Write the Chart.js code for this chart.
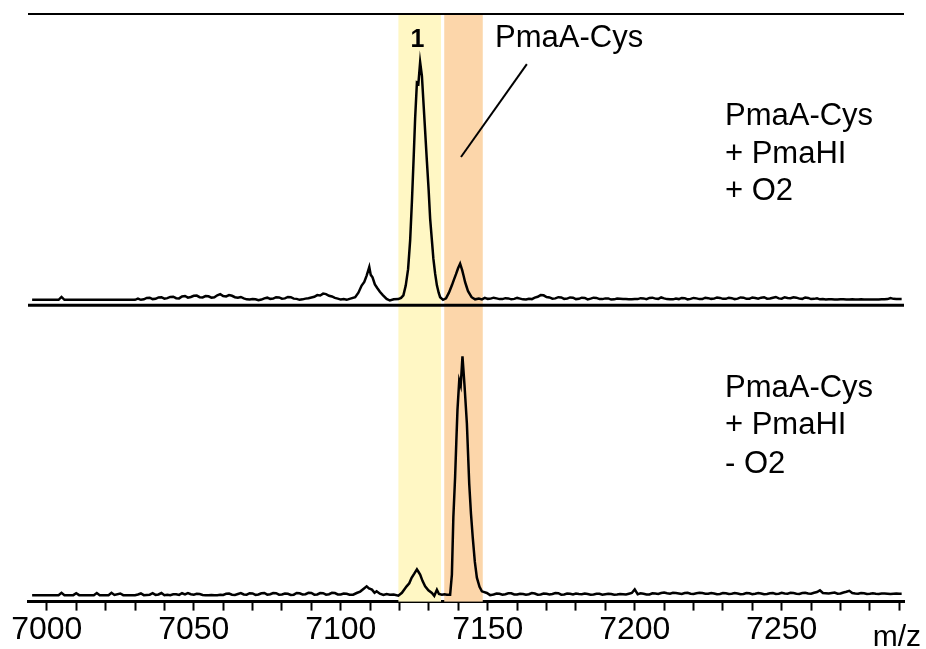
<!DOCTYPE html>
<html>
<head>
<meta charset="utf-8">
<script src="https://cdn.jsdelivr.net/npm/chart.js@4"></script>
<style>
  body { margin: 0; background: #fff; }
  #wrap { width: 926px; height: 649px; }
</style>
</head>
<body>
<div id="wrap"><canvas id="spec" width="926" height="649"></canvas></div>
<script>
/* data: m/z and relative intensity */
const mzTop = [6995, 7000, 7004, 7005, 7006, 7010, 7015, 7020, 7025, 7030,
  7031, 7032, 7033, 7034, 7035, 7036, 7037, 7038, 7039, 7040,
  7041, 7042, 7043, 7044, 7045, 7046, 7047, 7048, 7049, 7050,
  7051, 7052, 7053, 7054, 7055, 7056, 7057, 7058, 7059, 7060,
  7061, 7062, 7063, 7064, 7065, 7066, 7067, 7068, 7069, 7070,
  7071, 7072, 7073, 7074, 7075, 7076, 7077, 7078, 7079, 7080,
  7081, 7082, 7083, 7084, 7085, 7086, 7087, 7088, 7089, 7090,
  7091, 7092, 7093, 7094, 7095, 7096, 7097, 7098, 7099, 7100,
  7101, 7102, 7103,
  7104.9, 7106, 7107.1, 7108, 7108.8, 7109.7, 7110.2, 7110.8, 7111.6, 7112.4, 7113.3, 7114.3, 7115.6, 7116.7, 7118, 7119.6,
  7120.5, 7121.3, 7122.1, 7122.9, 7123.6, 7124.2, 7124.8, 7125.3, 7125.9, 7126.4, 7127.0, 7127.6, 7128.1, 7128.7, 7129.3,
  7129.9, 7130.4, 7131.0, 7131.5, 7132.1, 7132.7, 7133.3, 7133.8, 7134.8,
  7135.8, 7136.8, 7137.8, 7138.5, 7139.2, 7139.9, 7140.6, 7141.3, 7141.8, 7142.3, 7142.8, 7143.3, 7144.5, 7145.7,
  7147, 7148, 7149, 7150, 7151, 7152, 7153, 7154, 7155, 7156,
  7157, 7158, 7159, 7160, 7161, 7162, 7163, 7164, 7165, 7166,
  7167, 7168, 7169, 7170, 7171, 7172, 7173, 7174, 7175, 7176,
  7177, 7178, 7179, 7180, 7181, 7182, 7183, 7184, 7185, 7186,
  7187, 7188, 7189, 7190, 7191, 7192, 7193, 7194, 7195, 7196,
  7197, 7198, 7199, 7200, 7201, 7202, 7203, 7204, 7205, 7206,
  7207, 7208, 7209, 7210, 7211, 7212, 7213, 7214, 7215, 7216,
  7217, 7218, 7219, 7220, 7221, 7222, 7223, 7224, 7225, 7226,
  7227, 7228, 7229, 7230, 7231, 7232, 7233, 7234, 7235, 7236,
  7237, 7238, 7239, 7240, 7241, 7242, 7243, 7244, 7245, 7246,
  7247, 7248, 7249, 7250, 7251, 7252, 7253, 7254, 7255, 7256,
  7257, 7258, 7259, 7260, 7261, 7262, 7263, 7264, 7265, 7266,
  7267, 7268, 7269, 7270, 7271, 7272, 7273, 7274, 7275, 7276,
  7277, 7278, 7279, 7280, 7281, 7282, 7283, 7284, 7285, 7286,
  7287, 7288, 7289, 7290, 7290.8];
const intTop = [0, 0, 0, 1.2, 0, 0, 0, 0, 0, 0,
  0.5, 0.0, 0.2, 0.8, 0.9, 0.3, 0.4, 1.0, 1.1, 0.5,
  0.7, 1.2, 1.3, 0.7, 0.6, 1.4, 1.6, 0.9, 1.2, 1.7,
  1.8, 1.1, 1.0, 1.6, 1.5, 0.9, 1.1, 1.9, 2.4, 1.6,
  1.4, 2.0, 1.7, 1.1, 0.9, 1.2, 0.6, 0.2, 0.1, 0.3,
  0.2, -0.2, 0.1, 0.6, 0.9, 0.4, 0.5, 1.1, 1.0, 0.5,
  0.6, 1.2, 1.1, 0.5, 0.4, 0.0, 0.2, 0.5, 0.7, 1.0,
  1.3, 2.0, 1.8, 2.6, 2.4, 1.7, 1.4, 0.8, 0.5, 0.1,
  0.3, 0.0, 0.4,
  1.1, 3.0, 6.0, 7.5, 10.2, 13.8, 10.5, 9.5, 6.5, 5.0, 3.4, 2.0, 0.4, -0.3, 0.2, 0.3,
  0.8, 1.9, 6, 12.9, 25, 41.3, 60, 76.5, 91.4, 90.9, 100, 94.3, 83.7, 71, 58.3,
  46, 34.2, 25, 17.3, 11, 6.1, 3, 1.1, 0,
  0.6, 3, 6.1, 8.5, 10.8, 13.3, 15.2, 12.5, 10.0, 7.4, 5.5, 3.6, 1.1, 0.2,
  0.5, 0.2, 0.8, 0.4, 0.5, 0.9, 0.6, 0.3, 0.3, 0.7,
  0.6, 0.2, 0.4, 0.8, 0.5, 0.2, 0.1, 0.4, 0.3, 0.9,
  1.3, 2.0, 1.9, 1.2, 1.0, 0.5, 0.6, 1.1, 1.0, 0.4,
  0.5, 1.0, 0.9, 0.3, 0.4, 0.9, 0.8, 0.2, 0.5, 0.9,
  0.8, 0.3, 0.3, 0.6, 0.6, 0.1, 0.2, 0.5, 0.4, 0.3,
  0.3, 0.2, 0.2, 0.3, 0.3, 0.7, 0.6, 0.3, 0.8, 0.9,
  0.5, 0.4, 1.0, 0.6, 0.3, 0.2, 0.2, 0.5, 0.3, 0.8,
  0.7, 0.2, 0.4, 0.8, 0.6, 0.3, 0.3, 0.9, 0.7, 0.4,
  0.5, 1.0, 0.8, 0.4, 0.4, 0.9, 0.7, 0.3, 0.5, 1.0,
  0.9, 0.4, 0.4, 1.0, 0.8, 0.5, 0.9, 1.1, 0.5, 0.6,
  0.9, 1.2, 0.6, 0.5, 1.1, 0.8, 0.7, 1.1, 0.9, 0.5,
  0.4, 1.0, 0.8, 0.3, 0.4, 0.6, 0.2, 0.3, 0.1, 0.2,
  0.2, 0.1, 0.1, 0.2, 0.2, 0.1, 0.1, 0.2, 0.1, 0.1,
  0.2, 0.1, 0.1, 0.1, 0.1, 0.1, 0.1, 0.2, 0.2, 0.3,
  0.7, 0.4, 0.3, 0.3, 0.3];

const mzBot = [6995, 7000, 7004, 7005, 7006, 7009, 7010, 7011, 7016, 7017, 7018, 7021, 7022, 7023, 7025, 7026,
  7030, 7031, 7032, 7033, 7034, 7035, 7036, 7037, 7038, 7039,
  7040, 7041, 7042, 7043, 7044, 7045, 7046, 7047, 7048, 7049,
  7050, 7051, 7052, 7053, 7054, 7055, 7056, 7057, 7058, 7059,
  7060, 7061, 7062, 7063, 7064, 7065, 7066, 7067, 7068, 7069,
  7070, 7071, 7072, 7073, 7074, 7075, 7076, 7077, 7078, 7079,
  7080, 7081, 7082, 7083, 7084, 7085, 7086, 7087, 7088, 7089,
  7090, 7091, 7092, 7093, 7094, 7095, 7096, 7097, 7098, 7099,
  7100, 7101, 7102, 7103,
  7104.2, 7105.4, 7106.6, 7107.7, 7108.8, 7109.6, 7110.6, 7111.5, 7112.2, 7113.3, 7114.5, 7115.6, 7116.7, 7118,
  7119.6, 7120.8, 7122.4, 7123.3, 7124.1, 7125, 7125.9, 7126.4, 7127.0, 7127.8, 7128.7, 7129.8, 7131.0, 7131.8,
  7132.7, 7133.4, 7134.4, 7135.3, 7136.1,
  7137.2, 7137.8, 7138.3, 7138.9, 7139.3, 7139.7, 7140.3, 7140.8, 7141.4, 7142.1, 7142.9, 7143.7, 7144.3, 7144.9,
  7145.6, 7146.3, 7147.2, 7148.0, 7149.7, 7150.8,
  7152, 7153, 7154, 7155, 7156, 7157, 7158, 7159, 7160, 7161,
  7162, 7163, 7164, 7165, 7166, 7167, 7168, 7169, 7170, 7171,
  7172, 7173, 7174, 7175, 7176, 7177, 7178, 7179, 7180, 7181,
  7182, 7183, 7184, 7185, 7186, 7187, 7188, 7189, 7190, 7191,
  7192, 7193, 7194, 7195, 7196, 7197, 7198, 7199, 7200, 7201,
  7202, 7203, 7204, 7205, 7206, 7207, 7208, 7209, 7210, 7211,
  7212, 7213, 7214, 7215, 7216, 7217, 7218, 7219, 7220, 7221,
  7222, 7223, 7224, 7225, 7226, 7227, 7228, 7229, 7230, 7231,
  7232, 7233, 7234, 7235, 7236, 7237, 7238, 7239, 7240, 7241,
  7242, 7243, 7244, 7245, 7246, 7247, 7248, 7249, 7250, 7251,
  7252, 7253, 7254, 7255, 7256, 7257, 7258, 7259, 7260, 7261,
  7262, 7263, 7264, 7265, 7266, 7267, 7268, 7269, 7270, 7271,
  7272, 7273, 7274, 7275, 7276, 7277, 7278, 7279, 7280, 7281,
  7282, 7283, 7284, 7285, 7286, 7287, 7288, 7289, 7290, 7290.8];
const intBot = [0, 0, 0, 1.0, 0, 0, 0.8, 0, 0, 0.9, 0, 0, 1.0, 0.1, 0.7, 0,
  0.0, 0.3, 0.7, 0.0, 0.1, 0.2, 0.8, 0.1, 0.3, 0.9,
  0.0, 0.2, 0.0, 0.4, 0.4, 0.1, 0.8, 0.3, 0.9, 0.4,
  0.2, 0.6, 0.5, 0.1, 0.0, 0.0, 0.1, 0.0, 0.0, 0.2,
  0.1, 0.6, 0.7, 0.2, 0.1, 0.5, 0.9, 0.3, 0.2, 0.8,
  0.7, 0.1, 0.3, 0.8, 0.9, 0.2, 0.4, 0.9, 0.8, 0.2,
  0.3, 0.7, 0.6, 0.1, 0.2, 0.9, 0.8, 0.3, 0.4, 1.0,
  0.9, 0.2, 0.3, 0.9, 0.8, 0.2, 0.4, 1.0, 0.9, 0.3,
  0.3, 0.7, 0.6, 0.2,
  0.2, 0.9, 1.5, 2.6, 3.7, 2.8, 2.3, 1.0, 1.6, 0.6, 0.1, 0.5, 0.2, 0.3,
  -0.2, 1.0, 3.7, 5.0, 7.3, 9.0, 10.8, 9.8, 8.6, 6.0, 3.7, 2.0, 0.9, -0.3,
  2.3, 0.5, 0.2, 0.4, 0.2,
  0.2, 8.6, 32.7, 49.6, 64, 77.6, 89.9, 87.8, 100, 87.8, 71.9, 46.6, 34, 24.1,
  14, 7.3, 3.5, 1.6, 0.9, 0,
  0.3, 0.7, 0.6, 0.2, 0.4, 0.8, 0.8, 0.3, 0.3, 0.6,
  0.5, 0.2, 0.4, 0.9, 0.7, 0.2, 0.3, 0.7, 0.6, 0.3,
  0.5, 0.9, 0.8, 0.2, 0.3, 0.7, 0.6, 0.3, 0.7, 0.5,
  0.4, 0.7, 0.5, 0.2, 0.3, 0.6, 0.6, 0.2, 0.4, 0.6,
  0.5, 0.2, 0.3, 0.5, 0.4, 0.3, 0.6, 0.9, 2.4, 0.4,
  0.8, 0.6, 0.3, 0.3, 0.8, 0.7, 0.5, 0.9, 1.1, 0.8,
  0.6, 1.0, 0.9, 0.7, 0.5, 0.9, 1.0, 0.6, 0.5, 0.8,
  1.0, 0.9, 0.6, 0.6, 0.9, 0.7, 0.4, 0.5, 0.9, 0.8,
  0.5, 0.6, 0.9, 0.7, 0.4, 0.5, 0.9, 0.8, 0.4, 0.6,
  0.9, 0.7, 0.4, 0.5, 0.8, 0.9, 0.5, 0.6, 1.0, 0.7,
  0.6, 1.0, 0.9, 0.6, 0.5, 0.9, 1.0, 0.7, 0.6, 1.0,
  1.3, 2.0, 0.9, 0.8, 0.7, 0.9, 1.1, 0.6, 0.7, 1.1,
  1.4, 1.8, 0.9, 0.7, 0.6, 0.9, 0.8, 0.5, 0.6, 0.8,
  0.6, 0.5, 0.7, 0.7, 0.6, 0.5, 0.6, 0.7, 0.6, 0.6];

/* highlighted m/z windows */
const bandYellow = [7119.6, 7134.1];
const bandOrange = [7135.2, 7148.3];

const labelTop = ['PmaA-Cys', '+ PmaHI', '+ O2'];
const labelBot = ['PmaA-Cys', '+ PmaHI', '- O2'];

const FONT = '"Liberation Sans", Arial, Helvetica, sans-serif';
Chart.defaults.font.family = FONT;
Chart.defaults.color = '#000';

function pairs(xs, ys) {
    return xs.map(function(x, i) { return {x: x, y: ys[i]}; });
}

const decor = {
    id: 'decor',
    beforeDatasetsDraw(chart) {
        const ctx = chart.ctx;
        const a = chart.chartArea;
        const x = chart.scales.x;
        ctx.save();
        ctx.fillStyle = '#fff7c4';
        ctx.fillRect(x.getPixelForValue(bandYellow[0]), a.top, x.getPixelForValue(bandYellow[1]) - x.getPixelForValue(bandYellow[0]), a.bottom - a.top);
        ctx.fillStyle = '#fcd6aa';
        ctx.fillRect(x.getPixelForValue(bandOrange[0]), a.top, x.getPixelForValue(bandOrange[1]) - x.getPixelForValue(bandOrange[0]), a.bottom - a.top);
        ctx.restore();
    },
    afterDatasetsDraw(chart) {
        const ctx = chart.ctx;
        const a = chart.chartArea;
        const x = chart.scales.x;
        const yt = chart.scales.yTop;
        const yb = chart.scales.yBot;
        ctx.save();
        ctx.strokeStyle = '#000';
        // frame line on top and the panel separator
        ctx.lineWidth = 2;
        ctx.beginPath();
        ctx.moveTo(a.left, a.top);
        ctx.lineTo(a.right, a.top);
        ctx.stroke();
        ctx.lineWidth = 3;
        ctx.beginPath();
        ctx.moveTo(a.left, yt.bottom);
        ctx.lineTo(a.right, yt.bottom);
        ctx.stroke();

        // peak labels
        ctx.fillStyle = '#000';
        ctx.textBaseline = 'alphabetic';
        ctx.textAlign = 'center';
        ctx.font = 'bold 25px ' + FONT;
        ctx.fillText('1', x.getPixelForValue(7126.1), yt.getPixelForValue(106.6));
        ctx.textAlign = 'left';
        ctx.font = '31px ' + FONT;
        ctx.fillText('PmaA-Cys', x.getPixelForValue(7152.5), yt.getPixelForValue(106.6));
        ctx.lineWidth = 2;
        ctx.beginPath();
        ctx.moveTo(x.getPixelForValue(7163.3), yt.getPixelForValue(99.2));
        ctx.lineTo(x.getPixelForValue(7140.9), yt.getPixelForValue(60.1));
        ctx.stroke();

        // sample conditions
        const topY = [73.5, 57.5, 42.2];
        const botY = [82.9, 67.3, 51.3];
        labelTop.forEach(function(t, i) {
            ctx.fillText(t, x.getPixelForValue(7230.7), yt.getPixelForValue(topY[i]));
        });
        labelBot.forEach(function(t, i) {
            ctx.fillText(t, x.getPixelForValue(7230.7), yb.getPixelForValue(botY[i]));
        });

        // axis name
        ctx.font = '30px ' + FONT;
        ctx.textAlign = 'right';
        ctx.fillText('m/z', chart.width - 5, chart.height - 3);
        ctx.restore();
    }
};

const lineStyle = {
    borderColor: '#000',
    borderWidth: 2.5,
    pointRadius: 0,
    tension: 0,
    fill: false
};

const ctx = document.getElementById('spec');
const chart = new Chart(ctx, {
    type: 'line',
    data: {
        datasets: [
            Object.assign({label: 'bot', data: pairs(mzBot, intBot), yAxisID: 'yBot'}, lineStyle),
            Object.assign({label: 'top', data: pairs(mzTop, intTop), yAxisID: 'yTop'}, lineStyle)
        ]
    },
    options: {
        responsive: false,
        devicePixelRatio: 1,
        animation: false,
        layout: {
            padding: {left: 28, right: 22, top: 14, bottom: 0}
        },
        plugins: {
            legend: {display: false},
            tooltip: {enabled: false}
        },
        scales: {
            x: {
                type: 'linear',
                min: 6993.6,
                max: 7291.6,
                grid: {
                    drawOnChartArea: false,
                    tickLength: 9,
                    tickWidth: 2,
                    tickColor: '#000'
                },
                border: {display: true, color: '#000', width: 3},
                ticks: {
                    stepSize: 10,
                    includeBounds: false,
                    autoSkip: false,
                    maxRotation: 0,
                    padding: 0,
                    color: '#000',
                    font: {size: 32},
                    callback: function(v) { return v % 50 === 0 ? String(v) : ''; }
                }
            },
            yBot: {
                type: 'linear',
                position: 'left',
                stack: 'panels',
                stackWeight: 294,
                min: -2.7,
                max: 121.4,
                grid: {display: false, drawTicks: false},
                border: {display: false},
                ticks: {display: false}
            },
            yTop: {
                type: 'linear',
                position: 'left',
                stack: 'panels',
                stackWeight: 289,
                min: -2.3,
                max: 120.3,
                grid: {display: false, drawTicks: false},
                border: {display: false},
                ticks: {display: false}
            }
        }
    },
    plugins: [decor]
});
</script>
</body>
</html>
